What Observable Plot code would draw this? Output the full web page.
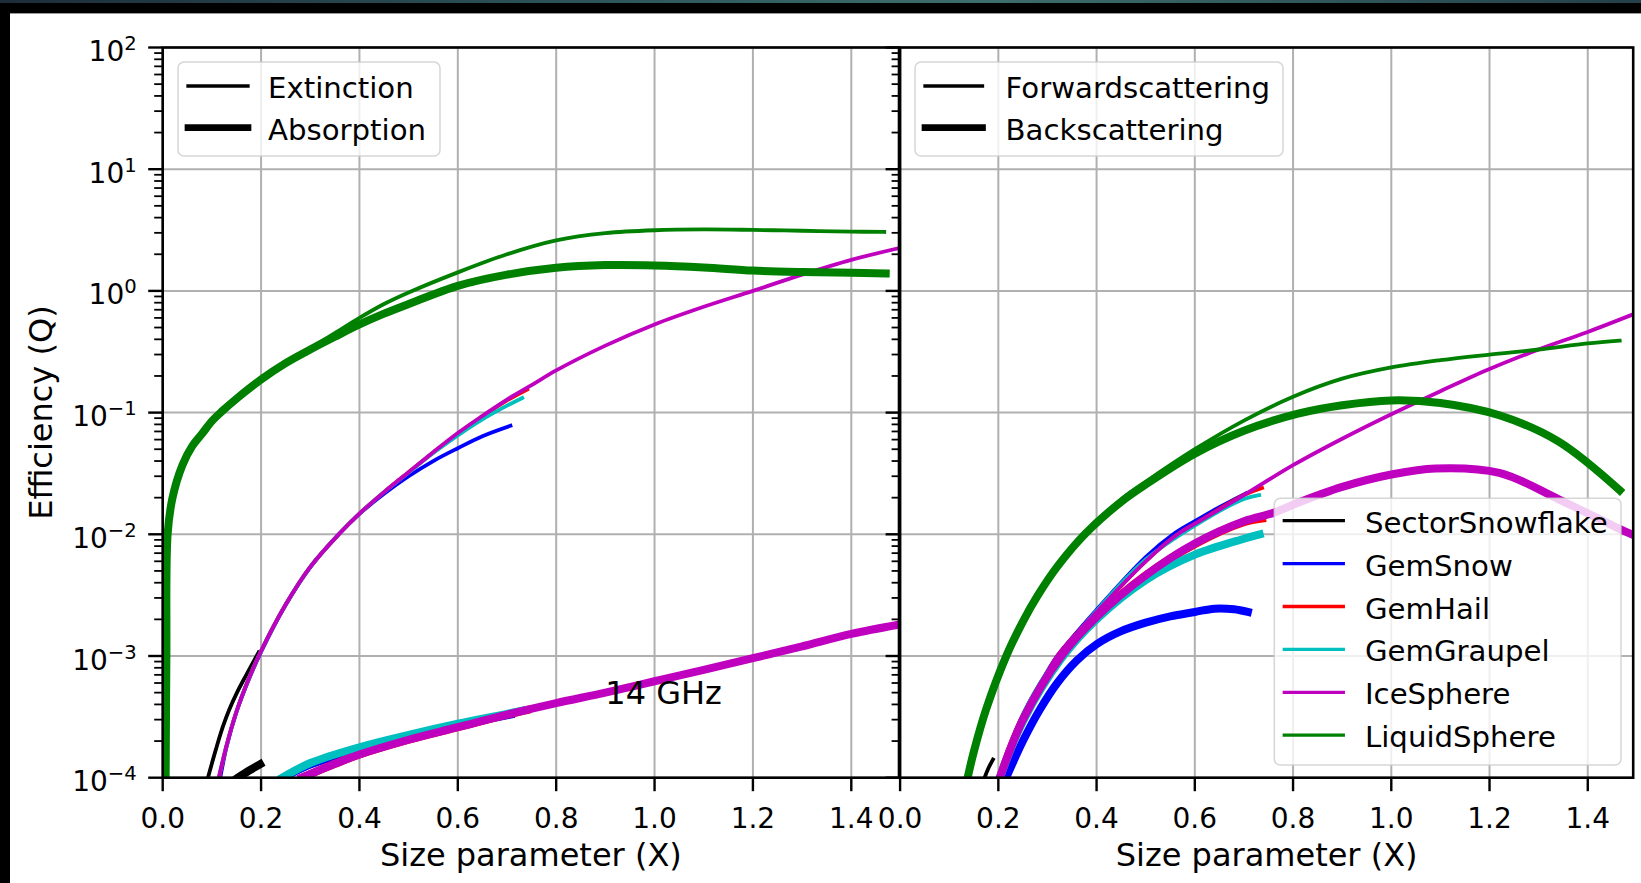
<!DOCTYPE html>
<html><head><meta charset="utf-8">
<script src="https://cdn.jsdelivr.net/npm/d3@7"></script>
<script src="https://cdn.jsdelivr.net/npm/@observablehq/plot@0.6"></script>
<style>
html,body{margin:0;padding:0;background:#000;}
body{width:1641px;height:883px;position:relative;overflow:hidden;font-family:"DejaVu Sans";}
#topband{position:absolute;left:0;top:0;width:1641px;height:3px;background:linear-gradient(90deg,#1d2d3a 0%,#2f5a5e 40%,#3d6f6c 60%,#24404a 100%);}
#paper{position:absolute;left:10px;top:13px;width:1631px;height:870px;background:#fff;border-top:1.5px solid #9a9a9a;box-sizing:border-box;}
#left,#right{position:absolute;top:0;}
#left{left:0px;}
#right{left:860px;}
</style></head><body>
<div id="topband"></div><div id="paper"></div><div id="left"></div><div id="right"></div>
<script>
// ---------- ticks ----------
const xTicks = [0, 0.2, 0.4, 0.6, 0.8, 1.0, 1.2, 1.4];
const xTickLabels = ["0.0","0.2","0.4","0.6","0.8","1.0","1.2","1.4"];
const yTicks = [1e-4, 1e-3, 1e-2, 1e-1, 1, 10, 100];
const yTickBase = "10";
const yTickExponents = ["\u22124","\u22123","\u22122","\u22121","0","1","2"];
const yMinorTicks = yTicks.slice(0, -1).flatMap(d => [2,3,4,5,6,7,8,9].map(m => m * d));

// ---------- categories ----------
const species = ["SectorSnowflake","GemSnow","GemHail","GemGraupel","IceSphere","LiquidSphere"];
const speciesColors = ["#000000","#0000ff","#ff0000","#00bfbf","#bf00bf","#008000"];
const leftKinds = ["Extinction","Absorption"];
const rightKinds = ["Forwardscattering","Backscattering"];
const annotations = [{x: 0.9, y: 4e-4, text: "14 GHz"}];

// ---------- left panel: extinction (thin) / absorption (thick) ----------
const extSectorSnowflake = [[0.092,1.0e-4],[0.108,1.7e-4],[0.122,2.6e-4],[0.135,3.6e-4],[0.151,5.0e-4],[0.17,7.0e-4],[0.195,1.07e-3]];
const absSectorSnowflake = [[0.153,1.0e-4],[0.175,1.14e-4],[0.198,1.29e-4]];
const extGemSnow = [[0.117,1.0e-4],[0.13,1.8e-4],[0.15,3.45e-4],[0.175,6.4e-4],[0.2,1.08e-3],[0.25,2.62e-3],[0.3,5.35e-3],[0.358,1.0e-2],[0.4,1.47e-2],[0.45,2.15e-2],[0.5,3.0e-2],[0.55,4.0e-2],[0.6,5.1e-2],[0.65,6.4e-2],[0.707,7.8e-2]];
const absGemSnow = [[0.245,1.0e-4],[0.3,1.28e-4],[0.4,1.72e-4],[0.5,2.2e-4],[0.6,2.7e-4],[0.707,3.3e-4]];
const extGemHail = [[0.115,1.0e-4],[0.13,1.85e-4],[0.15,3.5e-4],[0.175,6.5e-4],[0.2,1.1e-3],[0.25,2.65e-3],[0.3,5.4e-3],[0.358,1.0e-2],[0.4,1.48e-2],[0.45,2.22e-2],[0.5,3.24e-2],[0.55,4.7e-2],[0.6,6.7e-2],[0.65,9.3e-2],[0.7,0.126],[0.741,0.155]];
const absGemHail = [[0.283,1.0e-4],[0.35,1.3e-4],[0.4,1.55e-4],[0.5,2.05e-4],[0.6,2.6e-4],[0.7,3.3e-4],[0.741,3.6e-4]];
const extGemGraupel = [[0.114,1.0e-4],[0.13,1.85e-4],[0.15,3.5e-4],[0.175,6.5e-4],[0.2,1.1e-3],[0.25,2.65e-3],[0.3,5.4e-3],[0.358,1.0e-2],[0.4,1.48e-2],[0.45,2.22e-2],[0.5,3.22e-2],[0.55,4.65e-2],[0.6,6.5e-2],[0.65,8.8e-2],[0.7,0.114],[0.731,0.132]];
const absGemGraupel = [[0.243,1.0e-4],[0.3,1.32e-4],[0.4,1.78e-4],[0.5,2.25e-4],[0.6,2.78e-4],[0.7,3.35e-4],[0.731,3.55e-4]];
const extIceSphere = [[0.114,1.0e-4],[0.13,1.85e-4],[0.15,3.5e-4],[0.175,6.5e-4],[0.2,1.1e-3],[0.25,2.65e-3],[0.3,5.4e-3],[0.358,1.0e-2],[0.4,1.48e-2],[0.45,2.22e-2],[0.5,3.24e-2],[0.55,4.73e-2],[0.6,6.8e-2],[0.65,9.4e-2],[0.7,0.128],[0.75,0.168],[0.8,0.222],[0.9,0.355],[1.0,0.53],[1.1,0.74],[1.2,1.0],[1.3,1.36],[1.4,1.8],[1.5,2.26]];
const absIceSphere = [[0.283,1.0e-4],[0.35,1.3e-4],[0.4,1.55e-4],[0.5,2.05e-4],[0.6,2.6e-4],[0.7,3.3e-4],[0.8,4.1e-4],[0.9,5.0e-4],[1.0,6.2e-4],[1.1,7.7e-4],[1.2,9.6e-4],[1.3,1.2e-3],[1.4,1.52e-3],[1.5,1.82e-3]];
const extLiquidSphere = [[0.006,1.0e-4],[0.0075,1.0e-3],[0.01,1.0e-2],[0.02,2.0e-2],[0.04,3.7e-2],[0.06,5.3e-2],[0.08,6.7e-2],[0.1,8.5e-2],[0.12,0.102],[0.15,0.13],[0.2,0.187],[0.25,0.255],[0.3,0.34],[0.35,0.45],[0.4,0.6],[0.45,0.78],[0.5,0.97],[0.6,1.42],[0.7,2.0],[0.8,2.6],[0.9,2.98],[1.0,3.15],[1.1,3.2],[1.2,3.17],[1.3,3.12],[1.4,3.07],[1.467,3.05]];
const absLiquidSphere = [[0.006,1.0e-4],[0.0075,1.0e-3],[0.01,1.0e-2],[0.02,2.0e-2],[0.04,3.7e-2],[0.06,5.3e-2],[0.08,6.7e-2],[0.1,8.5e-2],[0.12,0.102],[0.15,0.13],[0.2,0.187],[0.25,0.255],[0.3,0.33],[0.35,0.42],[0.4,0.53],[0.45,0.65],[0.5,0.78],[0.6,1.1],[0.7,1.36],[0.8,1.55],[0.9,1.63],[1.0,1.62],[1.1,1.56],[1.2,1.47],[1.3,1.43],[1.4,1.41],[1.47,1.39]];

// ---------- right panel: forward (thin) / back (thick) scattering ----------
const fwdSectorSnowflake = [[0.172,1.0e-4],[0.18,1.2e-4],[0.189,1.41e-4]];
const backSectorSnowflake = [];
const fwdGemSnow = [[0.2,1.0e-4],[0.25,3.3e-4],[0.3,7.5e-4],[0.32,1.0e-3],[0.4,2.4e-3],[0.5,6.5e-3],[0.556,1.0e-2],[0.6,1.28e-2],[0.65,1.67e-2],[0.704,2.17e-2]];
const backGemSnow = [[0.216,1.0e-4],[0.25,2.0e-4],[0.284,3.6e-4],[0.32,6.0e-4],[0.36,9.2e-4],[0.4,1.25e-3],[0.45,1.6e-3],[0.5,1.88e-3],[0.55,2.12e-3],[0.6,2.3e-3],[0.64,2.45e-3],[0.68,2.42e-3],[0.708,2.3e-3]];
const fwdGemHail = [[0.2,1.0e-4],[0.25,3.2e-4],[0.3,7.3e-4],[0.32,1.0e-3],[0.4,2.3e-3],[0.5,6.0e-3],[0.565,1.0e-2],[0.6,1.22e-2],[0.7,2.1e-2],[0.737,2.4e-2]];
const backGemHail = [[0.203,1.0e-4],[0.25,3.0e-4],[0.328,1.0e-3],[0.4,2.1e-3],[0.5,4.6e-3],[0.6,8.3e-3],[0.7,1.26e-2],[0.737,1.35e-2]];
const fwdGemGraupel = [[0.2,1.0e-4],[0.25,3.3e-4],[0.3,7.4e-4],[0.4,2.35e-3],[0.5,6.2e-3],[0.6,1.18e-2],[0.7,1.95e-2],[0.731,2.1e-2]];
const backGemGraupel = [[0.203,1.0e-4],[0.25,2.9e-4],[0.328,9.5e-4],[0.4,2.0e-3],[0.5,4.2e-3],[0.6,6.8e-3],[0.7,9.2e-3],[0.732,1.0e-2]];
const fwdIceSphere = [[0.2,1.0e-4],[0.25,3.2e-4],[0.3,7.3e-4],[0.32,1.0e-3],[0.4,2.3e-3],[0.5,6.0e-3],[0.565,1.0e-2],[0.6,1.22e-2],[0.7,2.1e-2],[0.8,3.7e-2],[0.9,6.1e-2],[1.0,9.7e-2],[1.1,0.15],[1.2,0.228],[1.3,0.33],[1.4,0.46],[1.5,0.66]];
const backIceSphere = [[0.203,1.0e-4],[0.25,3.0e-4],[0.328,1.0e-3],[0.4,2.1e-3],[0.5,4.6e-3],[0.6,8.4e-3],[0.7,1.28e-2],[0.76,1.5e-2],[0.8,1.75e-2],[0.9,2.45e-2],[1.0,3.1e-2],[1.09,3.48e-2],[1.22,3.2e-2],[1.34,1.95e-2],[1.47,1.08e-2],[1.5,9.6e-3]];
const fwdLiquidSphere = [[0.135,1.0e-4],[0.15,1.68e-4],[0.175,3.75e-4],[0.215,1.0e-3],[0.25,1.97e-3],[0.28,3.2e-3],[0.32,5.55e-3],[0.377,1.04e-2],[0.45,1.93e-2],[0.5,2.7e-2],[0.6,5.0e-2],[0.7,8.6e-2],[0.8,0.135],[0.9,0.19],[1.0,0.235],[1.1,0.27],[1.2,0.30],[1.3,0.33],[1.4,0.37],[1.465,0.39]];
const backLiquidSphere = [[0.1375,1.0e-4],[0.15,1.63e-4],[0.175,3.63e-4],[0.215,9.75e-4],[0.25,1.92e-3],[0.28,3.13e-3],[0.32,5.42e-3],[0.377,1.01e-2],[0.45,1.85e-2],[0.5,2.57e-2],[0.6,4.6e-2],[0.7,7.1e-2],[0.81,9.8e-2],[0.9,0.115],[1.0,0.126],[1.1,0.12],[1.22,0.095],[1.34,0.058],[1.465,0.023]];

const leftThin  = [extSectorSnowflake, extGemSnow, extGemHail, extGemGraupel, extIceSphere, extLiquidSphere];
const leftThick = [absSectorSnowflake, absGemSnow, absGemHail, absGemGraupel, absIceSphere, absLiquidSphere];
const rightThin  = [fwdSectorSnowflake, fwdGemSnow, fwdGemHail, fwdGemGraupel, fwdIceSphere, fwdLiquidSphere];
const rightThick = [backSectorSnowflake, backGemSnow, backGemHail, backGemGraupel, backIceSphere, backLiquidSphere];

// ---------- helpers ----------
const TICK_FONT = 28, LABEL_FONT = 32, LEGEND_FONT = 29.2;

function legendMark(cfg, offsetX) {
  return () => {
    const g = d3.create("svg:g");
    const [x0, y0, x1, y1] = cfg.box;
    g.append("rect")
      .attr("x", x0 - offsetX).attr("y", y0)
      .attr("width", x1 - x0).attr("height", y1 - y0)
      .attr("rx", 6).attr("ry", 6)
      .attr("fill", "white").attr("fill-opacity", 0.8)
      .attr("stroke", "#cccccc").attr("stroke-opacity", 0.8).attr("stroke-width", 1.5);
    cfg.labels.forEach((label, i) => {
      const y = cfg.firstRow + i * cfg.rowStep;
      g.append("line")
        .attr("x1", cfg.lineX[0] - offsetX).attr("x2", cfg.lineX[1] - offsetX)
        .attr("y1", y).attr("y2", y)
        .attr("stroke", cfg.colors[i]).attr("stroke-width", cfg.widths[i])
        .attr("stroke-linecap", "square");
      g.append("text")
        .attr("x", cfg.textX - offsetX).attr("y", y + 12)
        .attr("text-anchor", "start")
        .attr("font-size", LEGEND_FONT)
        .attr("fill", "black")
        .text(label);
    });
    return g.node();
  };
}

// y tick labels as 10 with a real superscript, positioned through Plot's y scale
function yTickLabelMark() {
  return (index, scales, values, dimensions) => {
    const g = d3.create("svg:g")
      .attr("fill", "black").attr("text-anchor", "end").attr("font-size", TICK_FONT);
    yTicks.forEach((d, i) => {
      const t = g.append("text")
        .attr("x", dimensions.marginLeft - 25.5)
        .attr("y", scales.y(d) + 14);
      t.append("tspan").text(yTickBase);
      t.append("tspan").attr("dy", -11).attr("font-size", TICK_FONT * 0.7).text(yTickExponents[i]);
    });
    return g.node();
  };
}

function panel({thin, thick, xMax, width, marginLeft, marginRight, yLabels, xLabel, yLabel, legends, offsetX, notes}) {
  const lines = species.flatMap((s, i) => [
    Plot.line(thin[i], {x: d => d[0], y: d => d[1], stroke: speciesColors[i], strokeWidth: 3.8,
      curve: "catmull-rom", clip: true, strokeLinecap: "square", strokeLinejoin: "round"}),
    Plot.line(thick[i], {x: d => d[0], y: d => d[1], stroke: speciesColors[i], strokeWidth: 8,
      curve: "catmull-rom", clip: true, strokeLinecap: "square", strokeLinejoin: "round"})
  ]);
  const marks = [
    Plot.gridX({ticks: xTicks, stroke: "#b0b0b0", strokeOpacity: 1, strokeWidth: 2}),
    Plot.gridY({ticks: yTicks, stroke: "#b0b0b0", strokeOpacity: 1, strokeWidth: 2}),
    ...lines,
    Plot.frame({stroke: "black", strokeWidth: 2.6}),
    Plot.axisX({ticks: xTicks, tickSize: 14, strokeWidth: 2.4, fill: "none", label: null}),
    Plot.axisX({ticks: xTicks, tickSize: 0, tickPadding: 30, fontSize: TICK_FONT, fill: "black", label: null,
      tickFormat: d => xTickLabels[xTicks.indexOf(d)]}),
    Plot.axisY({ticks: yTicks, tickSize: 14, strokeWidth: 2.4, fill: "none", label: null}),
    Plot.axisY({ticks: yMinorTicks, tickSize: 8, strokeWidth: 1.8, fill: "none", label: null}),
    Plot.text([xLabel], {text: d => d, frameAnchor: "bottom", dy: 87.8, lineAnchor: "bottom",
      textAnchor: "middle", fontSize: LABEL_FONT, fill: "black"})
  ];
  if (yLabels) marks.push(yTickLabelMark());
  if (yLabel) {
    marks.push(Plot.text([yLabel], {text: d => d, frameAnchor: "left", dx: -111, rotate: -90,
      textAnchor: "middle", lineAnchor: "bottom", fontSize: LABEL_FONT, fill: "black"}));
  }
  if (notes) {
    marks.push(Plot.text(notes, {x: "x", y: "y", text: "text", textAnchor: "start", lineAnchor: "bottom",
      fontSize: LABEL_FONT, fill: "black"}));
  }
  legends.forEach(cfg => marks.push(legendMark(cfg, offsetX)));
  return Plot.plot({
    width, height: 883,
    marginLeft, marginRight, marginTop: 47, marginBottom: 105.8,
    x: {type: "linear", domain: [0, xMax], axis: null},
    y: {type: "log", domain: [1e-4, 100], axis: null},
    style: {background: "transparent", overflow: "visible", fontFamily: "DejaVu Sans", color: "black"},
    marks
  });
}

const leftLegend = {
  box: [178, 62, 440, 156], lineX: [188, 248], textX: 268, firstRow: 86, rowStep: 41.7,
  labels: leftKinds, colors: ["black", "black"], widths: [3.3, 6.7]
};
const midLegend = {
  box: [915, 62, 1283, 156], lineX: [925, 982.5], textX: 1005.6, firstRow: 86, rowStep: 41.7,
  labels: rightKinds, colors: ["black", "black"], widths: [3.3, 6.7]
};
const speciesLegend = {
  box: [1274.3, 498.3, 1621, 765], lineX: [1284.3, 1343.3], textX: 1365, firstRow: 520.7, rowStep: 42.9,
  labels: species, colors: speciesColors, widths: species.map(() => 3.3)
};

document.getElementById("left").append(panel({
  thin: leftThin, thick: leftThick, xMax: 1.497, width: 900, marginLeft: 162.2, marginRight: 1.5,
  yLabels: true, xLabel: "Size parameter (X)", yLabel: "Efficiency (Q)",
  legends: [leftLegend], offsetX: 0, notes: annotations
}));
document.getElementById("right").append(panel({
  thin: rightThin, thick: rightThick, xMax: 1.4925, width: 781, marginLeft: 39.6, marginRight: 8.3,
  yLabels: false, xLabel: "Size parameter (X)", yLabel: null,
  legends: [midLegend, speciesLegend], offsetX: 860, notes: null
}));
</script></body></html>
